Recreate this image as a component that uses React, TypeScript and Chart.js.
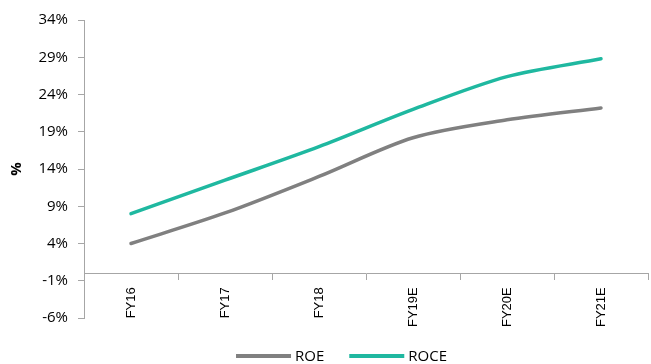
import React, { useEffect, useRef } from 'react';
import { Chart, registerables } from 'chart.js';

Chart.register(...registerables);

const categories = ['FY16', 'FY17', 'FY18', 'FY19E', 'FY20E', 'FY21E'];
const roeValues = [4.0, 8.1, 13.0, 18.2, 20.6, 22.2];
const roceValues = [8.0, 12.5, 17.0, 22.0, 26.4, 28.8];
const yTicks = [-6, -1, 4, 9, 14, 19, 24, 29, 34];
const seriesNames = ['ROE', 'ROCE'];
const seriesColors = ['#808080', '#1FB8A0'];

const legendPlugin = {
  id: 'bottomLineLegend',
  afterDraw(chart: any) {
    const ctx = chart.ctx;
    ctx.save();
    ctx.font = '15px "Open Sans"';
    const lineW = 55;
    const gap = 4;
    const spacing = 25;
    const items = chart.data.datasets.map((ds: any) => ({
      label: ds.label,
      color: ds.borderColor,
      w: lineW + gap + ctx.measureText(ds.label).width,
    }));
    const total = items.reduce((s: number, i: any) => s + i.w, 0) + spacing * (items.length - 1);
    let x = chart.width / 2 + 16 - total / 2;
    const y = chart.chartArea.bottom + 38;
    items.forEach((it: any) => {
      ctx.strokeStyle = it.color;
      ctx.lineWidth = 4;
      ctx.lineCap = 'butt';
      ctx.beginPath();
      ctx.moveTo(x, y);
      ctx.lineTo(x + lineW, y);
      ctx.stroke();
      ctx.fillStyle = '#000';
      ctx.textBaseline = 'middle';
      ctx.textAlign = 'left';
      ctx.fillText(it.label, x + lineW + gap, y + 1);
      x += it.w + spacing;
    });
    ctx.restore();
  },
};

export default function App() {
  const ref = useRef<HTMLCanvasElement>(null);

  useEffect(() => {
    if (!ref.current) return;
    const axisColor = '#A6A6A6';
    const chart = new Chart(ref.current, {
      type: 'line',
      data: {
        labels: categories,
        datasets: [
          {
            label: seriesNames[0],
            data: roeValues,
            borderColor: seriesColors[0],
            backgroundColor: seriesColors[0],
            borderWidth: 3.5,
            tension: 0.3,
            pointRadius: 0,
            borderCapStyle: 'round',
          },
          {
            label: seriesNames[1],
            data: roceValues,
            borderColor: seriesColors[1],
            backgroundColor: seriesColors[1],
            borderWidth: 3.5,
            tension: 0.3,
            pointRadius: 0,
            borderCapStyle: 'round',
          },
        ],
      },
      options: {
        responsive: false,
        animation: false,
        layout: { padding: { top: 20, right: 3, bottom: 46, left: 0 } },
        plugins: {
          legend: { display: false },
          tooltip: { enabled: false },
        },
        scales: {
          x: {
            type: 'category',
            position: { y: 0 } as any,
            offset: true,
            grid: {
              offset: true,
              drawOnChartArea: false,
              drawTicks: true,
              tickLength: 6,
              color: axisColor,
            },
            border: { color: axisColor, width: 1 },
            ticks: {
              autoSkip: false,
              minRotation: 90,
              maxRotation: 90,
              padding: 8,
              color: '#000',
              font: { family: 'Liberation Sans', size: 13 },
            },
          },
          y: {
            min: -6,
            max: 34,
            afterBuildTicks: (s: any) => {
              s.ticks = yTicks.map((v) => ({ value: v }));
            },
            afterFit: (s: any) => {
              s.width = 84;
            },
            grid: { drawOnChartArea: false, tickLength: 6, color: axisColor },
            border: { color: axisColor, width: 1 },
            ticks: {
              padding: 10,
              color: '#000',
              font: { family: 'Open Sans', size: 15 },
              callback: (v: any) => v + '%',
            },
            title: {
              display: true,
              text: '%',
              color: '#000',
              font: { family: 'Open Sans', size: 15, weight: 'bold' },
              padding: { top: 8, bottom: 0 },
            },
          },
        },
      },
      plugins: [legendPlugin],
    });
    return () => chart.destroy();
  }, []);

  return (
    <div style={{ position: 'fixed', left: 0, top: 0, width: 651, height: 364, background: '#fff' }}>
      <canvas ref={ref} width={651} height={364} style={{ display: 'block', width: 651, height: 364 }} />
    </div>
  );
}
